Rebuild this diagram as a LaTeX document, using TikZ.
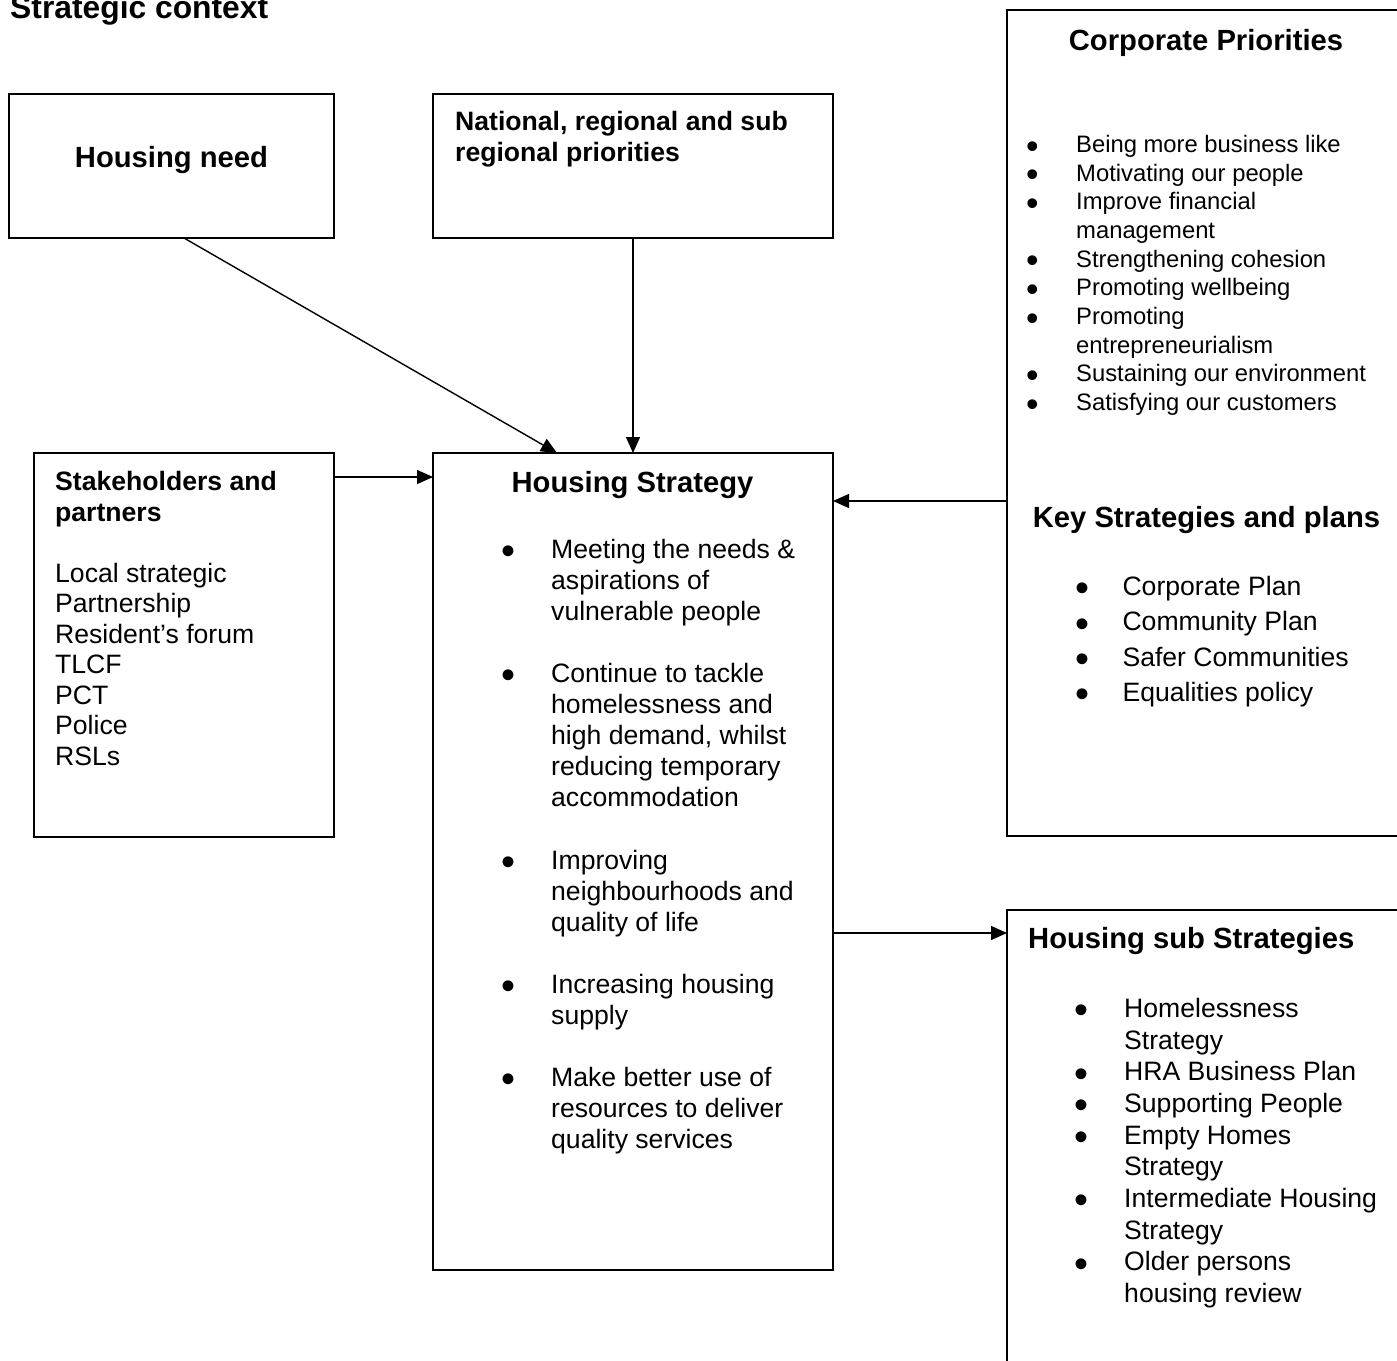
\documentclass[tikz,border=0pt]{standalone}
\usepackage{fontspec}
\usepackage{graphicx}
\setmainfont{Liberation Sans}
\usetikzlibrary{arrows.meta}

\newcommand{\titlefont}{\fontsize{31.8}{36}\selectfont\bfseries}
\newcommand{\headfont}{\fontsize{29.2}{34}\selectfont\bfseries}
\newcommand{\bodyfont}[1]{\fontsize{26.6}{#1}\selectfont}
\newcommand{\bul}{\smash{\raisebox{-0.235em}{\scalebox{1.5}{\textbullet}}}}
\newcommand{\bulletlist}[2]{\begin{tabular}[t]{@{}p{#1}@{}l@{}}#2\end{tabular}}
\tikzset{box/.style={draw, line width=1.6pt, anchor=north west, inner sep=0pt, outer sep=0pt},
    txt/.style={anchor=base west, inner sep=0pt},
    arrow/.style={line width=1.4pt, -{Triangle[length=16pt,width=14pt]}}}

\begin{document}
\begin{tikzpicture}[x=1pt, y=-1pt]
  \useasboundingbox (0,0) rectangle (1397,1360);
  % boxes
  \node[box, minimum width=325pt, minimum height=144pt] (need) at (9,94) {};
  \node[box, minimum width=400pt, minimum height=144pt] (national) at (433,94) {};
  \node[box, minimum width=398pt, minimum height=826pt] (corporate) at (1007,10) {};
  \node[box, minimum width=300pt, minimum height=384pt] (stakeholders) at (34,453) {};
  \node[box, minimum width=400pt, minimum height=817pt] (strategy) at (433,453) {};
  \node[box, minimum width=398pt, minimum height=490pt] (substrategies) at (1007,910) {};

  % texts
  \node[txt, font=\titlefont] (title) at (10,18.5) {Strategic context};
  \node[txt, anchor=base, font=\headfont] (needtitle) at (171.5,167.5) {Housing need};
  \node[txt, font={\bodyfont{31}\bfseries}] (nationaltitle) at (455,130.5)
    {\begin{tabular}[t]{@{}l@{}}National, regional and sub\\regional priorities\end{tabular}};
  \node[txt, anchor=base, font=\headfont] (corporatetitle) at (1206,50.5) {Corporate Priorities};
  \node[txt, font=\fontsize{23.8}{28.67}\selectfont] (corporatelist) at (1026,152.5)
    {\bulletlist{50pt}{\bul & Being more business like\\
      \bul & Motivating our people\\
      \bul & Improve financial\\ & management\\
      \bul & Strengthening cohesion\\
      \bul & Promoting wellbeing\\
      \bul & Promoting\\ & entrepreneurialism\\
      \bul & Sustaining our environment\\
      \bul & Satisfying our customers}};
  \node[txt, anchor=base, font=\headfont] (keytitle) at (1206.5,527.5) {Key Strategies and plans};
  \node[txt, font={\bodyfont{35.3}}] (keylist) at (1075.7,595.5)
    {\bulletlist{46.6pt}{\bul & Corporate Plan\\
      \bul & Community Plan\\
      \bul & Safer Communities\\
      \bul & Equalities policy}};
  \node[txt, font={\bodyfont{30.56}}] (stakeholderslist) at (55,490.5)
    {\begin{tabular}[t]{@{}l@{}}\textbf{Stakeholders and}\\ \textbf{partners}\\ \\
      Local strategic\\ Partnership\\ Resident’s forum\\ TLCF\\ PCT\\ Police\\ RSLs\end{tabular}};
  \node[txt, anchor=base, font=\headfont] (strategytitle) at (632.5,492.5) {Housing Strategy};
  \node[txt, font={\bodyfont{31.05}}] (strategylist) at (500.8,558.5)
    {\bulletlist{50.2pt}{\bul & Meeting the needs \&\\ & aspirations of\\ & vulnerable people\\ & \\
      \bul & Continue to tackle\\ & homelessness and\\ & high demand, whilst\\ & reducing temporary\\ & accommodation\\ & \\
      \bul & Improving\\ & neighbourhoods and\\ & quality of life\\ & \\
      \bul & Increasing housing\\ & supply\\ & \\
      \bul & Make better use of\\ & resources to deliver\\ & quality services}};
  \node[txt, font=\headfont] (subtitle) at (1028,948.5) {Housing sub Strategies};
  \node[txt, font={\bodyfont{31.67}}] (sublist) at (1074,1017.5)
    {\bulletlist{50pt}{\bul & Homelessness\\ & Strategy\\
      \bul & HRA Business Plan\\
      \bul & Supporting People\\
      \bul & Empty Homes\\ & Strategy\\
      \bul & Intermediate Housing\\ & Strategy\\
      \bul & Older persons\\ & housing review}};

  % connectors
  \draw[arrow] ([xshift=12.5pt]need.south) -- ([xshift=-76pt]strategy.north);
  \draw[arrow] (national.south) -- (strategy.north);
  \draw[arrow] ([yshift=-24pt]stakeholders.north east) -- ([yshift=-24pt]strategy.north west);
  \draw[arrow] ([yshift=-491pt]corporate.north west) -- ([yshift=-48pt]strategy.north east);
  \draw[arrow] ([yshift=-480pt]strategy.north east) -- ([yshift=-23pt]substrategies.north west);
\end{tikzpicture}
\end{document}
